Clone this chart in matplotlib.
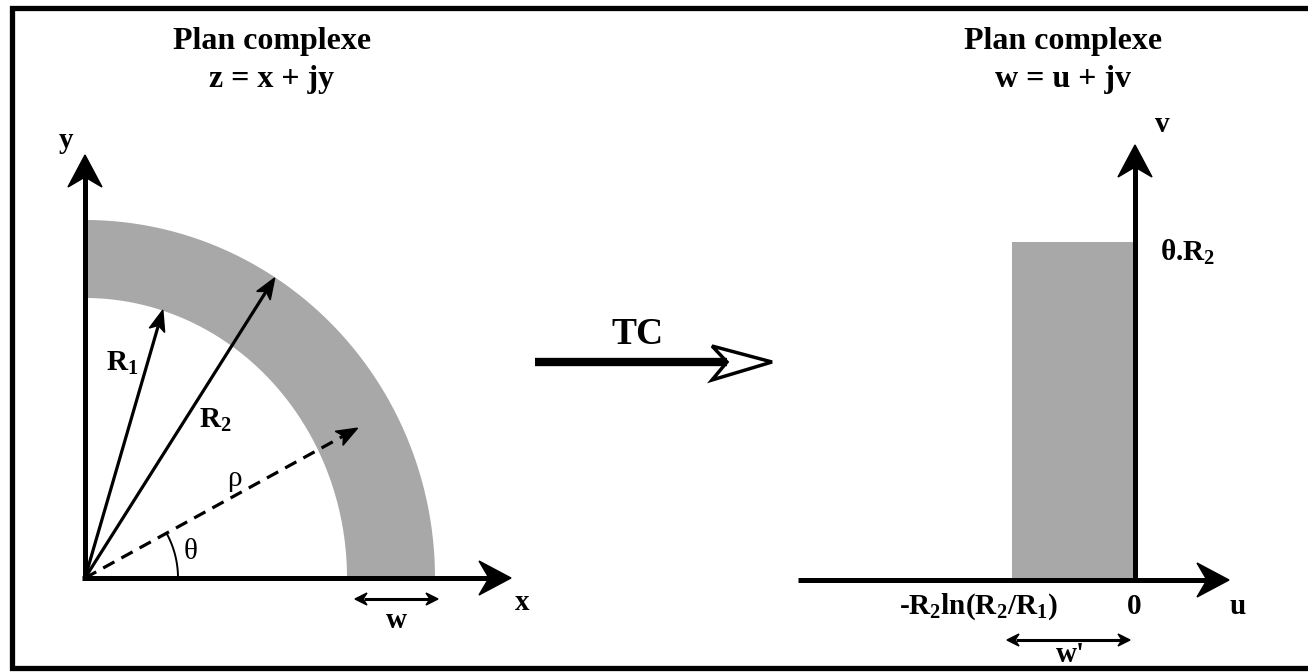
import matplotlib.pyplot as plt
import numpy as np
from matplotlib.patches import Polygon

plt.rcParams['font.family'] = ['Liberation Serif', 'DejaVu Serif']
plt.rcParams['mathtext.fontset'] = 'custom'
plt.rcParams['mathtext.rm'] = 'Liberation Serif:bold'
plt.rcParams['mathtext.it'] = 'Liberation Serif:bold'
plt.rcParams['mathtext.bf'] = 'Liberation Serif:bold'
plt.rcParams['mathtext.default'] = 'rm'

# geometry of the z-plane sketch (pixels, origin at bottom-left corner of quadrant)
z_origin = (85, 578)
r_inner = (262, 280)     # x / y radius of inner edge
r_outer = (350, 358)     # x / y radius of outer edge
vec_names = ['R1', 'R2', 'rho']
vec_angles = [73.8, 57.7, 28.8]      # degrees
vec_lengths = [279, 355, 311]
vec_dashed = [False, False, True]
theta_arc_r = 93

# geometry of the w-plane sketch
w_origin = (1135, 580)
rect_left = 1012
rect_top = 242

GRAY = '#a8a8a8'

fig = plt.figure(figsize=(13.08, 6.72), dpi=100)
ax = fig.add_axes([0, 0, 1, 1])
ax.set_xlim(0, 1308)
ax.set_ylim(672, 0)
ax.axis('off')


def arrow(p0, p1, lw=3.6, hl=32, hw=17, notch=10, color='k', ls='-'):
    p0 = np.array(p0, float)
    p1 = np.array(p1, float)
    d = p1 - p0
    L = np.hypot(*d)
    u = d / L
    n = np.array([-u[1], u[0]])
    base = p1 - u * (hl - notch)
    ax.plot([p0[0], base[0]], [p0[1], base[1]], color=color, lw=lw, ls=ls,
            solid_capstyle='butt', dash_capstyle='butt')
    back = p1 - u * hl
    head = [p1, back + n * hw, p1 - u * (hl - notch), back - n * hw]
    ax.add_patch(Polygon(head, closed=True, fc=color, ec=color, lw=1))


def dbl_arrow(x0, x1, y, hl=12, hw=6, lw=2.2):
    ax.plot([x0 + hl - 3, x1 - hl + 3], [y, y], color='k', lw=lw, solid_capstyle='butt')
    for tip, s in [(x0, 1), (x1, -1)]:
        head = [(tip, y), (tip + s * hl, y - hw), (tip + s * (hl - 4), y), (tip + s * hl, y + hw)]
        ax.add_patch(Polygon(head, closed=True, fc='k', ec='k', lw=1))


# frame
ax.plot([1308, 12, 12, 1308], [8, 8, 668, 668], color='k', lw=3.8,
        solid_joinstyle='miter', zorder=5)

# ---------- z plane ----------
ox, oy = z_origin
t = np.radians(np.linspace(0, 90, 200))
outer = np.column_stack([ox + r_outer[0] * np.cos(t), oy - r_outer[1] * np.sin(t)])
inner = np.column_stack([ox + r_inner[0] * np.cos(t[::-1]), oy - r_inner[1] * np.sin(t[::-1])])
ax.add_patch(Polygon(np.vstack([outer, inner]), closed=True, fc=GRAY, ec='none'))

arrow((ox - 3, oy), (511, oy))
arrow((ox, oy + 2), (ox, 155))

for name, ang, ln, dashed in zip(vec_names, vec_angles, vec_lengths, vec_dashed):
    a = np.radians(ang)
    tip = (ox + ln * np.cos(a), oy - ln * np.sin(a))
    arrow((ox, oy), tip, lw=2.3, hl=21, hw=8, notch=5, ls=(0, (4, 2.5)) if dashed else '-')

ta = np.radians(np.linspace(0, vec_angles[2], 40))
ax.plot(ox + theta_arc_r * np.cos(ta), oy - theta_arc_r * np.sin(ta), color='k', lw=1.4)

lab = dict(fontsize=21, fontweight='bold', ha='center', va='center')
ax.text(272, 42, 'Plan complexe', fontsize=23, fontweight='bold', ha='center', va='center')
ax.text(272, 79, 'z = x + jy', fontsize=23, fontweight='bold', ha='center', va='center')
ax.text(66, 140, 'y', **lab)
ax.text(522, 602, 'x', **lab)
ax.text(122, 363, 'R$_1$', **lab)
ax.text(215, 420, 'R$_2$', **lab)
ax.text(234, 479, 'ρ', fontsize=21, ha='center', va='center')
ax.text(191, 552, 'θ', fontsize=21, ha='center', va='center')
dbl_arrow(355, 438, 599)
ax.text(396, 620, 'w', **lab)

# ---------- TC arrow ----------
ax.plot([535, 727], [362, 362], color='k', lw=6, solid_capstyle='butt')
ax.add_patch(Polygon([(772, 362), (712, 346), (727, 362), (712, 380)], closed=True,
                     fc='white', ec='k', lw=2.5, joinstyle='miter'))
ax.text(637, 335, 'TC', fontsize=27, fontweight='bold', ha='center', va='center')

# ---------- w plane ----------
wx, wy = w_origin
ax.add_patch(Polygon([(rect_left, wy), (rect_left, rect_top), (wx, rect_top), (wx, wy)],
                     closed=True, fc=GRAY, ec='none'))
arrow((798, wy), (1229, wy))
arrow((wx, wy + 2), (wx, 145))
ax.text(1063, 42, 'Plan complexe', fontsize=23, fontweight='bold', ha='center', va='center')
ax.text(1063, 79, 'w = u + jv', fontsize=23, fontweight='bold', ha='center', va='center')
ax.text(1162, 125, 'v', **lab)
ax.text(1238, 607, 'u', **lab)
ax.text(1188, 252, 'θ.R$_2$', **lab)
ax.text(978, 607, '-R$_2$ln(R$_2$/R$_1$)', **lab)
ax.text(1134, 607, '0', **lab)
dbl_arrow(1007, 1130, 640)
ax.text(1070, 655, "w'", **lab)

fig.savefig('out.png', dpi=100)
